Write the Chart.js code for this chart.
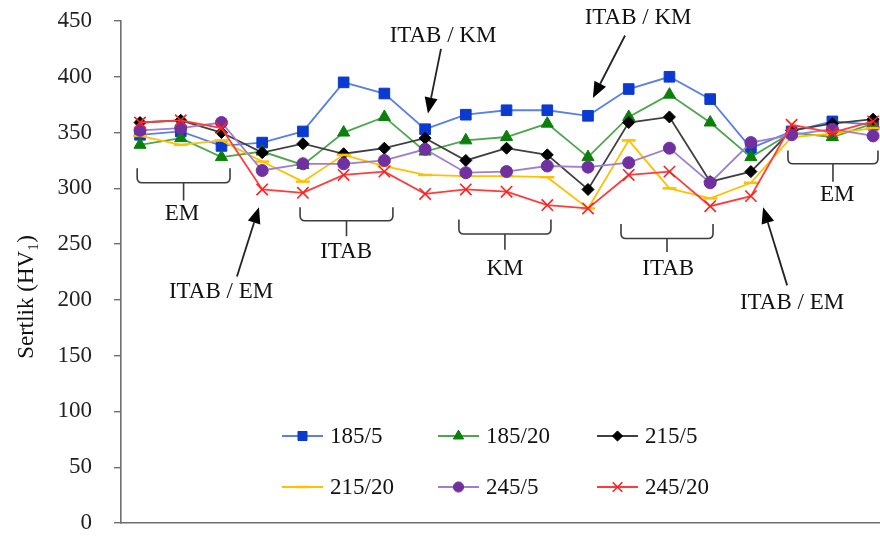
<!DOCTYPE html>
<html><head><meta charset="utf-8">
<script src="https://cdn.jsdelivr.net/npm/chart.js@4/dist/chart.umd.min.js"></script>
<style>html,body{margin:0;padding:0;background:#fff;overflow:hidden}#wrap{width:880px;height:538px;position:relative}</style>
</head><body><div id="wrap"><canvas id="c" width="880" height="538"></canvas></div>
<script>
// ---- data ----
const categories = ['1','2','3','4','5','6','7','8','9','10','11','12','13','14','15','16','17','18','19'];
const seriesNames = ['185/5','185/20','215/5','215/20','245/5','245/20'];
const s185_5  = [348,351,338,341,351,395,385,353,366,370,370,365,389,400,380,336,351,360,357];
const s185_20 = [339,345,328,333,321,350,364,333,343,346,358,328,364,384,359,328,350,346,358];
const s215_5  = [359,361,350,332,340,331,336,345,325,336,330,299,359,364,306,315,352,358,362];
const s215_20 = [347,339,343,324,306,330,320,312,311,311,310,282,343,300,291,305,346,349,354];
const s245_5  = [352,354,359,316,322,322,325,335,314,315,320,319,323,336,305,341,348,353,347];
const s245_20 = [359,361,354,299,296,312,315,295,299,297,285,282,312,315,284,293,357,350,360];
const yTicks = [0,50,100,150,200,250,300,350,400,450];
const yTitle = 'Sertlik (HV\u2081)';

// ---- styles ----
const FONT = "'Liberation Serif', 'Times New Roman', serif";
const styles = [
  {line:'#5a80e6', point:'#0b3ad0', pointStyle:'rect', radius:7.5, bw:1},
  {line:'#4da64d', point:'#0a800a', pointStyle:'triangle', radius:7, bw:1},
  {line:'#404040', point:'#000000', pointStyle:'rectRot', radius:6, bw:1},
  {line:'#ffc000', point:'#ffc000', pointStyle:'line', radius:7, bw:2.5},
  {line:'#9c7fd2', point:'#7030a0', pointStyle:'circle', radius:6, bw:1},
  {line:'#ff3c3c', point:'#ff2020', pointStyle:'crossRot', radius:8, bw:1.6}
];
const allSeries = [s185_5, s185_20, s215_5, s215_20, s245_5, s245_20];

// annotations, in data units (x = category index, y = hardness value)
const brackets = [
  {from:-0.07, to:2.21,  top:318, bottom:305, stem:289, label:'EM',   lx:1.03,  ly:277},
  {from:3.93,  to:6.21,  top:283, bottom:271, stem:257, label:'ITAB', lx:5.06,  ly:243},
  {from:7.83,  to:10.09, top:272, bottom:259, stem:245, label:'KM',   lx:8.96,  ly:228},
  {from:11.81, to:14.07, top:268, bottom:255, stem:243, label:'ITAB', lx:12.97, ly:228},
  {from:15.91, to:18.12, top:334, bottom:322, stem:306, label:'EM',   lx:17.12, ly:294}
];
const arrows = [
  {tx:2.38,  ty:221, hx:2.92,  hy:283, label:'ITAB / EM', lx:1.99,  ly:207},
  {tx:7.39,  ty:425, hx:7.07,  hy:367, label:'ITAB / KM', lx:7.44,  ly:437},
  {tx:11.91, ty:437, hx:11.12, hy:381, label:'ITAB / KM', lx:12.23, ly:453},
  {tx:15.89, ty:213, hx:15.30, hy:283, label:'ITAB / EM', lx:16.01, ly:197}
];

const datasets = seriesNames.map((name, i) => ({
  label: name,
  data: allSeries[i].map((v, k) => ({x: k, y: v})),
  borderColor: styles[i].line,
  borderWidth: 1.8,
  backgroundColor: styles[i].point,
  pointBackgroundColor: styles[i].point,
  pointBorderColor: styles[i].point,
  pointStyle: styles[i].pointStyle,
  pointRadius: styles[i].radius,
  pointBorderWidth: styles[i].bw,
  pointHoverRadius: styles[i].radius,
  tension: 0,
  fill: false,
  clip: false,
  order: -i
}));

const annoPlugin = {
  id: 'anno',
  afterDraw(chart) {
    const {ctx, scales: {x, y}} = chart;
    ctx.save();
    ctx.textAlign = 'center';
    ctx.textBaseline = 'middle';
    ctx.fillStyle = '#111';
    ctx.font = '23px ' + FONT;
    // brackets
    ctx.strokeStyle = '#3c3c3c';
    ctx.lineWidth = 1.6;
    brackets.forEach(b => {
      const x1 = x.getPixelForValue(b.from), x2 = x.getPixelForValue(b.to);
      const yt = y.getPixelForValue(b.top), yb = y.getPixelForValue(b.bottom), ys = y.getPixelForValue(b.stem);
      const xm = (x1 + x2) / 2, r = 5;
      ctx.beginPath();
      ctx.moveTo(x1, yt);
      ctx.lineTo(x1, yb - r);
      ctx.quadraticCurveTo(x1, yb, x1 + r, yb);
      ctx.lineTo(x2 - r, yb);
      ctx.quadraticCurveTo(x2, yb, x2, yb - r);
      ctx.lineTo(x2, yt);
      ctx.moveTo(xm, yb);
      ctx.lineTo(xm, ys);
      ctx.stroke();
      ctx.fillText(b.label, x.getPixelForValue(b.lx), y.getPixelForValue(b.ly));
    });
    // arrows
    ctx.strokeStyle = '#222';
    arrows.forEach(a => {
      const tx = x.getPixelForValue(a.tx), ty = y.getPixelForValue(a.ty);
      const hx = x.getPixelForValue(a.hx), hy = y.getPixelForValue(a.hy);
      const ang = Math.atan2(hy - ty, hx - tx);
      const L = 16, W = 6.5;
      const bx = hx - L * Math.cos(ang), by = hy - L * Math.sin(ang);
      ctx.lineWidth = 1.8;
      ctx.beginPath(); ctx.moveTo(tx, ty); ctx.lineTo(bx, by); ctx.stroke();
      ctx.fillStyle = '#000';
      ctx.beginPath();
      ctx.moveTo(hx, hy);
      ctx.lineTo(bx + W * Math.sin(ang), by - W * Math.cos(ang));
      ctx.lineTo(bx - W * Math.sin(ang), by + W * Math.cos(ang));
      ctx.closePath(); ctx.fill();
      ctx.fillStyle = '#111';
      ctx.fillText(a.label, x.getPixelForValue(a.lx), y.getPixelForValue(a.ly));
    });
    // y title
    ctx.save();
    ctx.translate(27, 297);
    ctx.rotate(-Math.PI / 2);
    ctx.font = '23px ' + FONT;
    ctx.fillStyle = '#111';
    ctx.fillText(yTitle, 0, 0);
    ctx.restore();
    // legend (inside plot)
    const colX = [282, 438, 597], rowY = [436, 487];
    ctx.font = '23px ' + FONT;
    ctx.textAlign = 'left';
    chart.data.datasets.forEach((ds, i) => {
      const lx = colX[i % 3], ly = rowY[Math.floor(i / 3)];
      ctx.strokeStyle = ds.borderColor;
      ctx.lineWidth = 1.8;
      ctx.beginPath(); ctx.moveTo(lx, ly); ctx.lineTo(lx + 41, ly); ctx.stroke();
      ctx.fillStyle = ds.pointBackgroundColor;
      ctx.strokeStyle = ds.pointBorderColor;
      ctx.lineWidth = ds.pointBorderWidth;
      Chart.helpers.drawPoint(ctx, {pointStyle: ds.pointStyle, radius: ds.pointRadius * 0.85, rotation: 0, borderWidth: ds.pointBorderWidth}, lx + 20.5, ly);
      ctx.fillStyle = '#111';
      ctx.fillText(ds.label, lx + 48, ly + 1);
    });
    ctx.restore();
  }
};

new Chart(document.getElementById('c'), {
  type: 'line',
  data: {labels: categories, datasets},
  options: {
    responsive: false,
    animation: false,
    devicePixelRatio: 1,
    layout: {autoPadding: false, padding: {top: 21, bottom: 15, left: 0, right: 0}},
    plugins: {legend: {display: false}, tooltip: {enabled: false}},
    scales: {
      x: {
        type: 'linear',
        min: -0.467, max: 18.17,
        ticks: {display: false},
        grid: {display: false},
        border: {display: true, color: '#6e6e6e', width: 1.6},
        afterFit(s) { s.height = 0; s.paddingLeft = 0; s.paddingRight = 0; s.paddingTop = 0; s.paddingBottom = 0; }
      },
      y: {
        min: 0, max: 450,
        afterBuildTicks(s) { s.ticks = yTicks.map(v => ({value: v})); },
        ticks: {font: {family: FONT, size: 23}, color: '#222', padding: 22},
        grid: {drawOnChartArea: false, drawTicks: true, tickLength: 7, color: '#6e6e6e', lineWidth: 1.4},
        border: {display: true, color: '#6e6e6e', width: 1.6},
        afterFit(s) { s.width = 121; s.paddingTop = 0; s.paddingBottom = 0; s.paddingLeft = 0; s.paddingRight = 0; }
      }
    }
  },
  plugins: [annoPlugin]
});
</script></body></html>
